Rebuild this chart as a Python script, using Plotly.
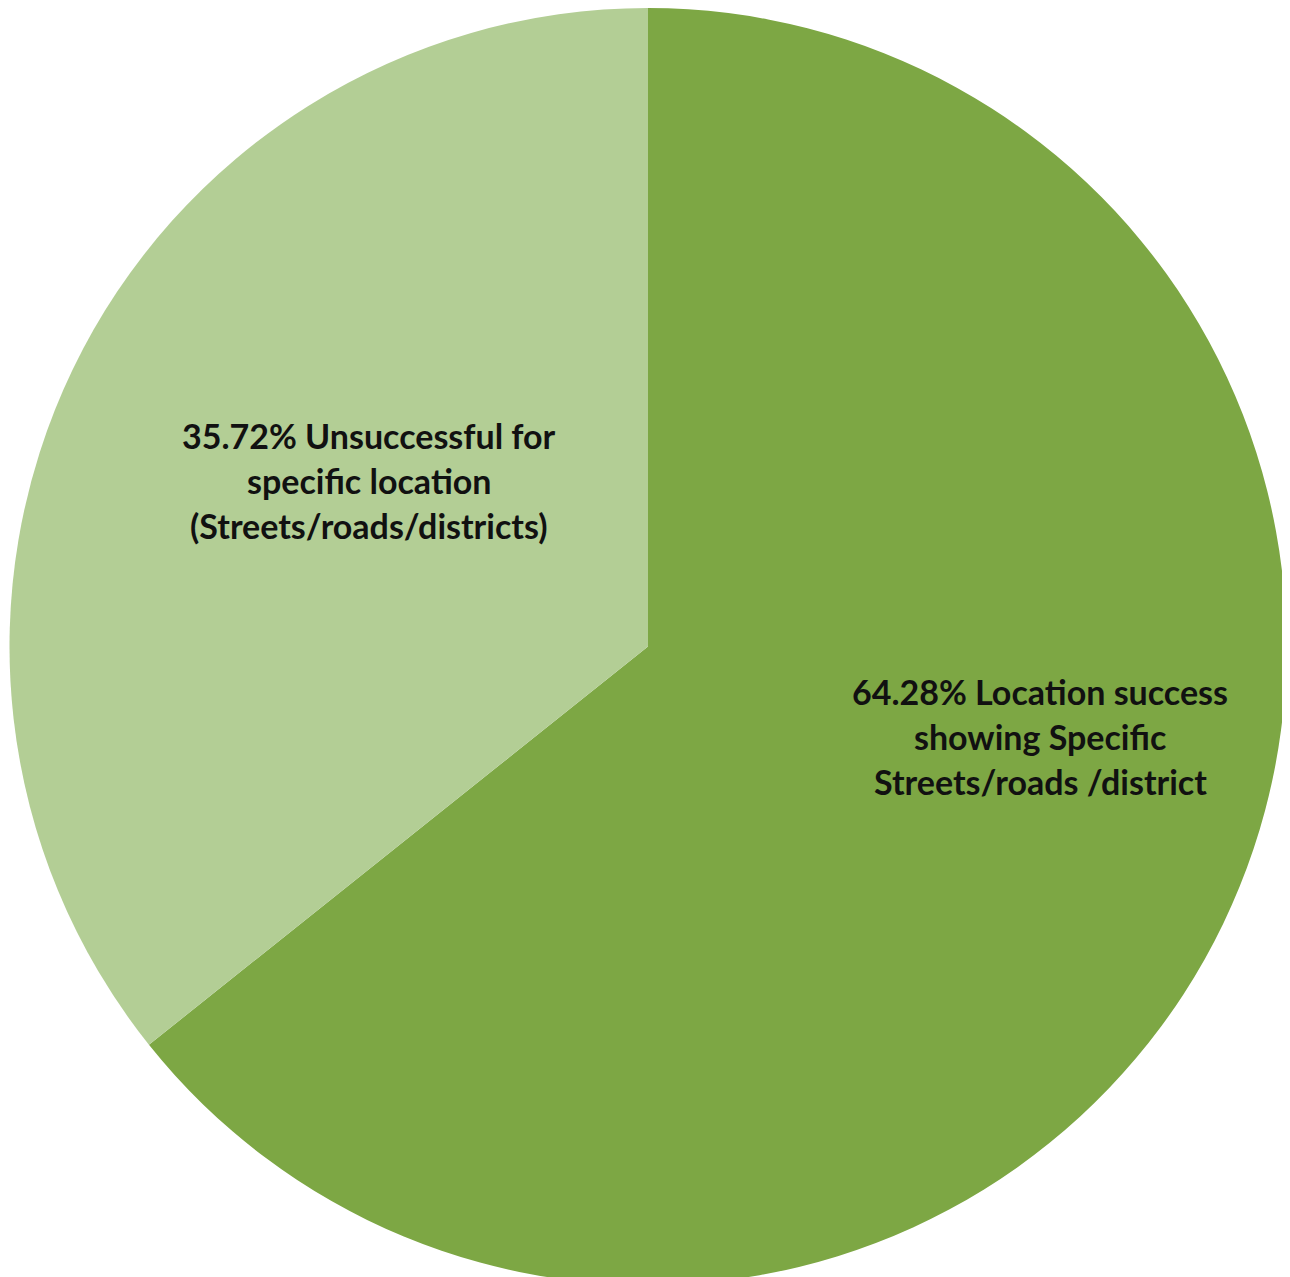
import plotly.graph_objects as go

categories = ["Location success showing Specific Streets/roads /district",
              "Unsuccessful for specific location (Streets/roads/districts)"]
values = [64.28, 35.72]
colors = ["#7DA744", "#B3CE95"]
label_lines = [
    ["64.28% Location success", "showing Specific", "Streets/roads /district"],
    ["35.72% Unsuccessful for", "specific location", "(Streets/roads/districts)"],
]

W, H = 1290, 1277
fig = go.Figure(go.Pie(
    labels=categories, values=values, sort=False, direction="clockwise",
    rotation=0, marker=dict(colors=colors, line=dict(width=0)),
    textinfo="none", hoverinfo="label+percent",
    domain=dict(x=[1 / W, 1279 / W], y=[0, 1]),
))

centers = [(1032, [683, 728, 773]), (361, [427, 472, 517])]
for (cx, ys), lines in zip(centers, label_lines):
    for y, t in zip(ys, lines):
        fig.add_annotation(x=cx / W, y=1 - y / H, xref="paper", yref="paper",
                           text="<b>" + t + "</b>", showarrow=False,
                           xanchor="center", yanchor="middle",
                           font=dict(family="Lato", size=34, color="#111111"))

fig.update_layout(width=W, height=H, margin=dict(l=0, r=0, t=0, b=0),
                  paper_bgcolor="white", showlegend=False)
fig.write_html("out.html")
